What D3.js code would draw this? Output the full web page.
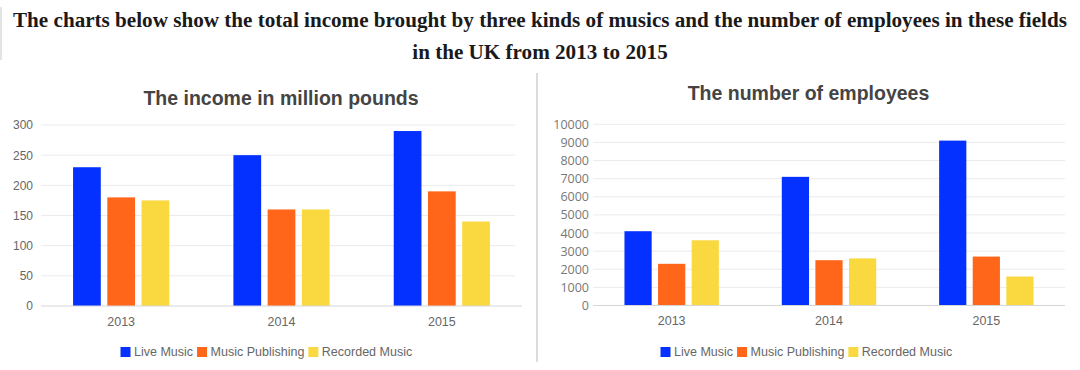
<!DOCTYPE html>
<html>
<head>
<meta charset="utf-8">
<script src="https://cdn.jsdelivr.net/npm/d3@7"></script>
<style>
  html, body { margin: 0; padding: 0; background: #fff; }
  svg { display: block; }
</style>
</head>
<body>
<svg id="chart" width="1080" height="370"></svg>
<script>
const years = ['2013', '2014', '2015'];
const seriesNames = ['Live Music', 'Music Publishing', 'Recorded Music'];
const seriesColors = ['#0431ff', '#ff661a', '#fad940'];

// income in million pounds, one array per series (2013, 2014, 2015)
const incomeLive = [230, 250, 290];
const incomePublishing = [180, 160, 190];
const incomeRecorded = [175, 160, 140];
const incomeTicks = [0, 50, 100, 150, 200, 250, 300];

// number of employees
const staffLive = [4100, 7100, 9100];
const staffPublishing = [2300, 2500, 2700];
const staffRecorded = [3600, 2600, 1600];
const staffTicks = [0, 1000, 2000, 3000, 4000, 5000, 6000, 7000, 8000, 9000, 10000];

const titleLines = [
  'The charts below show the total income brought by three kinds of musics and the number of employees in these fields',
  'in the UK from 2013 to 2015'
];

const svg = d3.select('#chart');

// main heading (serif, bold) - fit first line to the width seen in the picture
const head = svg.append('g')
  .attr('font-family', '"Liberation Serif", "DejaVu Serif", serif')
  .attr('font-weight', 'bold')
  .attr('fill', '#1a1a1a')
  .attr('text-anchor', 'middle');

const line1 = head.append('text').attr('x', 540).attr('y', 27).attr('font-size', 20).text(titleLines[0]);
const fitSize = 20 * 1055 / line1.node().getComputedTextLength();
line1.attr('font-size', fitSize);
head.append('text').attr('x', 540).attr('y', 59).attr('font-size', fitSize).text(titleLines[1]);

// thin frame bits
svg.append('line').attr('x1', 1).attr('x2', 1).attr('y1', 7).attr('y2', 60)
  .attr('stroke', '#e4e4e4').attr('stroke-width', 2);
svg.append('line').attr('x1', 537).attr('x2', 537).attr('y1', 73).attr('y2', 362)
  .attr('stroke', '#dcdcdc').attr('stroke-width', 2);

function drawChart(opts) {
  const g = svg.append('g');

  const x0 = d3.scaleBand().domain(years).range([opts.left, opts.right])
    .paddingInner(0.4).paddingOuter(0.2);
  const x1 = d3.scaleBand().domain(seriesNames).range([0, x0.bandwidth()]).paddingInner(0.19);
  const y = d3.scaleLinear().domain([0, d3.max(opts.ticks)]).range([opts.bottom, opts.top]);

  // title
  g.append('text')
    .attr('x', opts.titleX).attr('y', opts.titleY)
    .attr('text-anchor', 'middle')
    .attr('font-family', '"Liberation Sans", Arial, Helvetica, sans-serif')
    .attr('font-weight', 'bold')
    .attr('font-size', 19.5)
    .attr('fill', '#444')
    .text(opts.title);

  // gridlines
  g.append('g')
    .selectAll('line')
    .data(opts.ticks.filter(t => t !== 0))
    .join('line')
    .attr('x1', opts.left).attr('x2', opts.gridEnd)
    .attr('y1', d => y(d)).attr('y2', d => y(d))
    .attr('stroke', '#ebebeb').attr('stroke-width', 1);

  // y axis labels
  const yAxis = d3.axisLeft(y).tickValues(opts.ticks).tickFormat(d3.format('d')).tickSize(0).tickPadding(0);
  const ya = g.append('g')
    .attr('transform', `translate(${opts.labelX},0)`)
    .call(yAxis);
  ya.select('.domain').remove();
  ya.selectAll('text')
    .attr('font-family', opts.tickFont)
    .attr('font-size', opts.tickSize)
    .attr('fill', opts.tickColor);

  // bars
  const groups = g.append('g')
    .selectAll('g')
    .data(years.map((yr, i) => ({ yr, vals: opts.values.map(s => s[i]) })))
    .join('g')
    .attr('transform', d => `translate(${x0(d.yr)},0)`);

  groups.selectAll('rect')
    .data(d => d.vals.map((v, k) => ({ name: seriesNames[k], v, k })))
    .join('rect')
    .attr('x', d => x1(d.name))
    .attr('width', x1.bandwidth())
    .attr('y', d => y(d.v))
    .attr('height', d => y(0) - y(d.v))
    .attr('fill', d => seriesColors[d.k]);

  // baseline
  g.append('line')
    .attr('x1', opts.left).attr('x2', opts.right)
    .attr('y1', y(0)).attr('y2', y(0))
    .attr('stroke', '#d6d6d6').attr('stroke-width', 1);

  // x axis labels
  const xAxis = d3.axisBottom(x0).tickSize(0).tickPadding(0);
  const xa = g.append('g')
    .attr('transform', `translate(0,${opts.bottom + 11})`)
    .call(xAxis);
  xa.select('.domain').remove();
  xa.selectAll('text')
    .attr('font-family', '"Liberation Sans", Arial, Helvetica, sans-serif')
    .attr('font-size', 12.5)
    .attr('fill', '#666');

  // legend
  const lg = g.append('g')
    .attr('transform', `translate(${opts.legendX},352)`)
    .attr('font-family', '"Liberation Sans", Arial, Helvetica, sans-serif')
    .attr('font-size', 12.5)
    .attr('fill', '#666');
  let cx = 0;
  seriesNames.forEach((name, k) => {
    lg.append('rect').attr('x', cx).attr('y', -5).attr('width', 10).attr('height', 10)
      .attr('fill', seriesColors[k]);
    const t = lg.append('text').attr('x', cx + 13.5).attr('y', 0).attr('dy', '0.35em').text(name);
    cx += 13.5 + t.node().getComputedTextLength() + 4;
  });
}

drawChart({
  title: 'The income in million pounds',
  titleX: 281, titleY: 105,
  left: 41, right: 522, gridEnd: 515,
  top: 125, bottom: 306,
  labelX: 33,
  ticks: incomeTicks,
  tickFont: '"Liberation Sans", Arial, Helvetica, sans-serif',
  tickSize: 12, tickColor: '#666',
  values: [incomeLive, incomePublishing, incomeRecorded],
  legendX: 120.5
});

drawChart({
  title: 'The number of employees',
  titleX: 808.5, titleY: 100,
  left: 593, right: 1065, gridEnd: 1065,
  top: 124.3, bottom: 305.5,
  labelX: 589,
  ticks: staffTicks,
  tickFont: '"Open Sans", "Noto Sans", sans-serif',
  tickSize: 12.5, tickColor: '#777',
  values: [staffLive, staffPublishing, staffRecorded],
  legendX: 660.5
});
</script>
</body>
</html>
